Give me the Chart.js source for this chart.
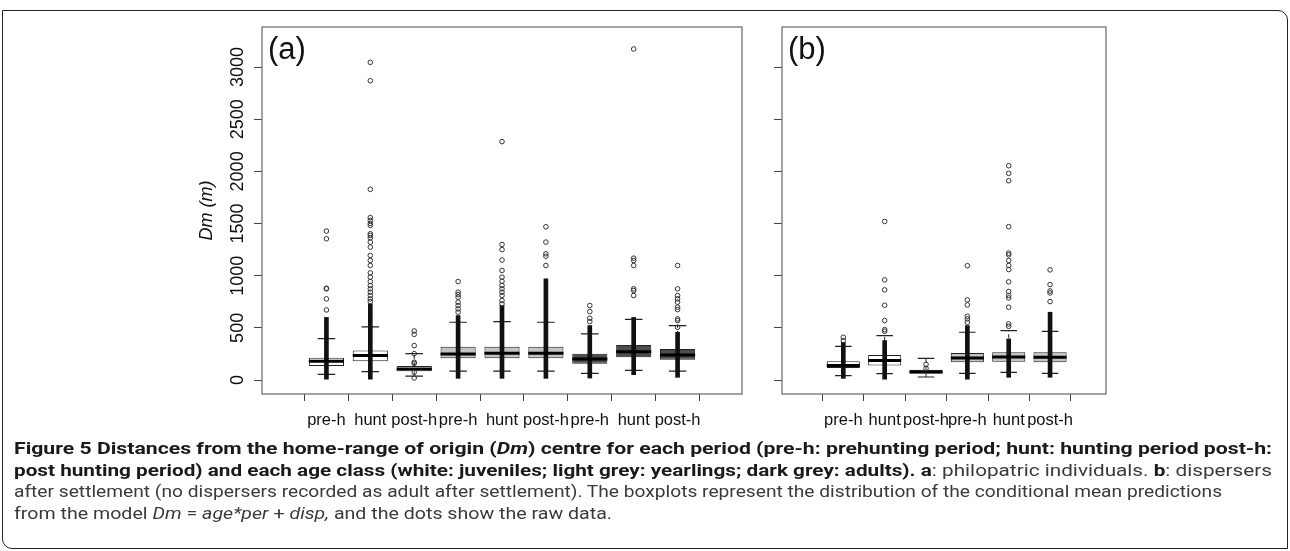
<!DOCTYPE html>
<html>
<head>
<meta charset="utf-8">
<script src="https://cdn.jsdelivr.net/npm/chart.js@4.4.1/dist/chart.umd.min.js"></script>
<style>
  html, body { margin: 0; padding: 0; background: #fff; }
  body { width: 1290px; height: 551px; position: relative; overflow: hidden; }
  #frame { position: absolute; left: 2px; top: 10px; width: 1284px; height: 537px;
           border: 1.5px solid #222; border-radius: 0 10px 0 10px; }
  canvas { position: absolute; top: 0; }
  #chartA { left: 190px; }
  #chartB { left: 760px; }
  .tag { position: absolute; top: 33px; font-family: "Liberation Sans", Arial, sans-serif;
         font-size: 31px; line-height: 31px; color: #111; }
  #caption { position: absolute; left: 14px; top: 438px; font-family: Roboto, "Open Sans", sans-serif;
             color: #3a3a3a; line-height: 21.6px; font-size: 16.5px; }
  #caption .ln { white-space: nowrap; }
  #caption .ln span { display: inline-block; transform-origin: 0 50%; }
  #caption b { color: #1a1a1a; font-weight: 700; }
</style>
</head>
<body>
<div id="frame"></div>
<canvas id="chartA" width="560" height="440"></canvas>
<canvas id="chartB" width="354" height="440"></canvas>
<div class="tag" style="left:268px">(a)</div>
<div class="tag" style="left:788px">(b)</div>
<div id="caption">
  <div class="ln" data-w="1258"><span><b>Figure 5 Distances from the home-range of origin (<i>Dm</i>) centre for each period (pre-h: prehunting period; hunt: hunting period post-h:</b></span></div>
  <div class="ln" data-w="1258"><span><b>post hunting period) and each age class (white: juveniles; light grey: yearlings; dark grey: adults). a</b>: philopatric individuals. <b>b</b>: dispersers</span></div>
  <div class="ln" data-w="1208"><span>after settlement (no dispersers recorded as adult after settlement). The boxplots represent the distribution of the conditional mean predictions</span></div>
  <div class="ln" data-w="598"><span>from the model <i>Dm</i> = <i>age*per</i> + <i>disp,</i> and the dots show the raw data.</span></div>
</div>
<script>
// ---- eixo y comum
const yTicks = [0, 500, 1000, 1500, 2000, 2500, 3000];

// ---- painel (a): filopátricos
const catsA = ['pre-h', 'hunt', 'post-h', 'pre-h', 'hunt', 'post-h', 'pre-h', 'hunt', 'post-h'];
const ageA  = ['juv', 'juv', 'juv', 'year', 'year', 'year', 'adult', 'adult', 'adult'];
const loA   = [54, 80, 38, 86, 86, 86, 64, 93, 86];
const q1A   = [134, 179, 83, 208, 208, 208, 157, 218, 195];
const medA  = [179, 234, 106, 250, 256, 256, 202, 272, 240];
const q3A   = [214, 282, 134, 320, 320, 320, 253, 336, 298];
const hiA   = [397, 509, 253, 554, 560, 554, 442, 582, 522];
// faixa onde os pontos brutos se sobrepõem (coluna preta)
const denseA = [[8, 600], [8, 730], null, [16, 618], [16, 714], [16, 970], [19, 522], [51, 600], [26, 458]];
// pontos brutos isolados
const rawA = [
  [672, 778, 874, 880, 1354, 1428],
  [752, 778, 810, 842, 874, 906, 944, 986, 1027, 1098, 1146, 1194, 1274, 1322, 1363, 1386, 1402, 1482, 1501, 1530, 1557, 1828, 2869, 3045],
  [19, 74, 160, 170, 253, 330, 438, 470],
  [650, 682, 714, 746, 794, 819, 842, 944],
  [730, 762, 810, 842, 874, 906, 947, 986, 1050, 1150, 1250, 1300, 2285],
  [1098, 1187, 1210, 1322, 1469],
  [560, 592, 656, 714],
  [810, 858, 874, 1098, 1146, 1168, 3173],
  [506, 570, 586, 675, 698, 746, 778, 810, 874, 1098]
];

// ---- painel (b): dispersores após assentamento
const catsB = ['pre-h', 'hunt', 'post-h', 'pre-h', 'hunt', 'post-h'];
const ageB  = ['juv', 'juv', 'juv', 'year', 'year', 'year'];
const loB   = [42, 61, 29, 64, 74, 64];
const q1B   = [115, 138, 61, 170, 176, 170];
const medB  = [138, 186, 80, 211, 221, 218];
const q3B   = [179, 240, 99, 259, 266, 266];
const hiB   = [323, 426, 208, 458, 474, 467];
const denseB = [[16, 360], [8, 378], null, [8, 522], [26, 394], [26, 650]];
const rawB = [
  [378, 410],
  [467, 483, 570, 717, 864, 960, 1520],
  [112, 150],
  [554, 586, 611, 720, 768, 1096],
  [515, 538, 698, 787, 810, 848, 941, 1059, 1098, 1146, 1200, 1216, 1470, 1910, 1981, 2054],
  [752, 835, 854, 915, 1056]
];

const corIdade = { juv: '#ffffff', year: '#c4c4c4', adult: '#4d4d4d' };

// moldura da área de plotagem (box() do R)
const moldura = {
  id: 'moldura',
  afterDraw(chart) {
    const a = chart.chartArea;
    const ctx = chart.ctx;
    ctx.save();
    ctx.strokeStyle = '#666';
    ctx.lineWidth = 1.2;
    ctx.strokeRect(a.left, a.top, a.right - a.left, a.bottom - a.top);
    ctx.restore();
  }
};

// segmentos com quebras (y: null) para bigodes, barras e medianas
function segmentos(pares) {
  const out = [];
  pares.forEach(p => {
    out.push({ x: p[0], y: p[1] }, { x: p[2], y: p[3] }, { x: p[0], y: null });
  });
  return out;
}

function criarPainel(id, cats, ages, lo, q1, med, q3, hi, dense, raw, xMin, xMax, yWidth, comRotulos) {
  const ctx = document.getElementById(id).getContext('2d');
  const bigodes = [], caps = [], medianas = [];
  cats.forEach((c, i) => {
    const x = i + 1;
    bigodes.push([x, q3[i], x, hi[i]], [x, q1[i], x, lo[i]]);
    caps.push([x - 0.2, hi[i], x + 0.2, hi[i]], [x - 0.2, lo[i], x + 0.2, lo[i]]);
    medianas.push([x - 0.4, med[i], x + 0.4, med[i]]);
  });
  const pontos = [];
  raw.forEach((lista, i) => lista.forEach(v => pontos.push({ x: i + 1, y: v })));
  const colunas = [];
  dense.forEach((d, i) => { if (d) colunas.push({ x: i + 1, y: d }); });

  new Chart(ctx, {
    type: 'bar',
    data: {
      datasets: [
        {
          type: 'bar', order: 6, grouped: false,
          data: cats.map((c, i) => ({ x: i + 1, y: [q1[i], q3[i]] })),
          backgroundColor: ages.map(a => corIdade[a]),
          borderColor: '#222', borderWidth: 1, borderSkipped: false,
          categoryPercentage: 1, barPercentage: 0.8
        },
        {
          type: 'line', order: 5, data: segmentos(bigodes),
          borderColor: '#222', borderWidth: 1, borderDash: [4, 3], pointRadius: 0, spanGaps: false
        },
        {
          type: 'line', order: 5, data: segmentos(caps),
          borderColor: '#222', borderWidth: 1.2, pointRadius: 0, spanGaps: false
        },
        {
          type: 'bar', order: 3, grouped: false, data: colunas,
          backgroundColor: '#111', borderWidth: 0, barThickness: 4
        },
        {
          type: 'line', order: 2, data: segmentos(medianas),
          borderColor: '#000', borderWidth: 3, pointRadius: 0, spanGaps: false
        },
        {
          type: 'scatter', order: 1, data: pontos,
          pointRadius: 2.3, pointBorderWidth: 1, pointBorderColor: '#333',
          pointBackgroundColor: 'rgba(0,0,0,0)', showLine: false
        }
      ]
    },
    options: {
      responsive: false,
      animation: false,
      events: [],
      layout: { padding: { top: 27, right: 8, left: 0, bottom: 0 } },
      plugins: { legend: { display: false }, tooltip: { enabled: false } },
      scales: {
        x: {
          type: 'linear', min: xMin, max: xMax,
          afterBuildTicks: s => { s.ticks = cats.map((c, i) => ({ value: i + 1 })); },
          afterFit: s => { s.height = 46; },
          ticks: {
            autoSkip: false, maxRotation: 0, minRotation: 0, padding: 10,
            callback: v => cats[v - 1],
            font: { family: 'Liberation Sans', size: 16.5 }, color: '#111'
          },
          grid: { drawOnChartArea: false, drawTicks: true, tickLength: 7, color: '#444' },
          border: { display: false }
        },
        y: {
          type: 'linear', min: -134, max: 3384,
          afterBuildTicks: s => { s.ticks = yTicks.map(v => ({ value: v })); },
          afterFit: s => { s.width = yWidth; },
          ticks: {
            display: comRotulos, minRotation: 90, maxRotation: 90, crossAlign: 'center', padding: -4,
            callback: v => String(v),
            font: { family: 'Liberation Sans', size: 18 }, color: '#111'
          },
          grid: { drawOnChartArea: false, drawTicks: true, tickLength: 8, color: '#444' },
          border: { display: false },
          title: {
            display: comRotulos, text: 'Dm (m)', color: '#111',
            font: { family: 'Liberation Sans', size: 18, style: 'italic' },
            padding: { top: 6, bottom: 0 }
          }
        }
      }
    },
    plugins: [moldura]
  });
}

criarPainel('chartA', catsA, ageA, loA, q1A, medA, q3A, hiA, denseA, rawA, 0.14, 9.86, 72, true);
criarPainel('chartB', catsB, ageB, loB, q1B, medB, q3B, hiB, denseB, rawB, 0.17, 6.70, 22, false);

// ajustar cada linha da legenda à largura que tem na figura
function ajustarLegenda() {
  document.querySelectorAll('#caption .ln').forEach(ln => {
    const span = ln.querySelector('span');
    span.style.transform = 'none';
    const w = span.getBoundingClientRect().width;
    const alvo = parseFloat(ln.dataset.w);
    span.style.transform = 'scaleX(' + (alvo / w).toFixed(4) + ')';
  });
}
ajustarLegenda();
if (document.fonts) document.fonts.ready.then(ajustarLegenda);
</script>
</body>
</html>
